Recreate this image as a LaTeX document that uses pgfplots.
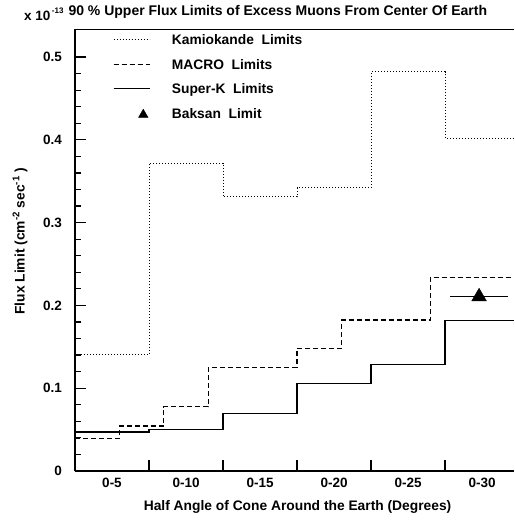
\documentclass[border=0pt]{standalone}
\usepackage{fontspec}
\setmainfont{Liberation Sans}
\usepackage{pgfplots}
\pgfplotsset{compat=1.18}
\begin{document}
\begin{tikzpicture}
\begin{axis}[
 name=ax,
 scale only axis, width=439pt, height=441.7pt,
 xmin=2.5, xmax=32.16, ymin=0, ymax=0.5335,
 axis x line=box, axis y line=left,
 axis line style={-, line width=1.4pt},
 tick pos=left, tick align=inside,
 xtick={7.5,12.5,17.5,22.5,27.5}, xticklabels={},
 extra x ticks={5,10,15,20,25,30},
 extra x tick labels={0-5,0-10,0-15,0-20,0-25,0-30},
 extra x tick style={major tick length=0pt},
 major tick length=11pt, minor tick length=6pt,
 every tick/.style={black, line width=1.2pt},
 ytick={0,0.1,0.2,0.3,0.4,0.5},
 yticklabels={0,0.1,0.2,0.3,0.4,0.5},
 minor y tick num=4,
 ticklabel style={font=\bfseries\fontsize{13.5}{16}\selectfont},
 xticklabel style={yshift=-3.5pt},
 yticklabel style={xshift=-9.5pt},
 xlabel={Half Angle of Cone Around the Earth (Degrees)},
 ylabel={Flux Limit (cm\textsuperscript{-2} sec\textsuperscript{-1} )},
 every axis x label/.style={at={([yshift=-35.7pt]rel axis cs:0.507,0)}, anchor=center, font=\bfseries\fontsize{13.8}{16}\selectfont},
 every axis y label/.style={at={([xshift=-55pt]rel axis cs:0,0.5207)}, anchor=center, rotate=90, font=\bfseries\fontsize{13.8}{16}\selectfont},
 legend style={draw=none, fill=none, inner sep=0pt, outer sep=0pt,
   at={([xshift=38pt,yshift=-5.55pt]rel axis cs:0,1)}, anchor=north west,
   font=\bfseries\fontsize{13.8}{16}\selectfont,
   nodes={inner sep=0pt, text height=9.7pt, text depth=0pt},
   row sep=14.8pt,
   /tikz/every odd column/.append style={column sep=21.7pt}},
 legend cell align=left,
 legend image code/.code={\draw[#1] (0pt,0pt) -- (36pt,0pt);},
]
\addplot[const plot, black, line width=0.9pt, dash pattern=on 0.9pt off 2.1pt]
 coordinates {(2.5,0.1405) (7.5,0.372) (12.5,0.331) (17.5,0.342) (22.5,0.482) (27.5,0.4018) (32.16,0.4018)};
\addlegendentry{Kamiokande\ \ Limits}
\addplot[const plot, black, line width=1.1pt, dash pattern=on 5pt off 3pt]
 coordinates {(2.5,0.0395) (5.5,0.0543) (8.5,0.0777) (11.5,0.1248) (17.5,0.1477) (20.5,0.1824) (26.5,0.2339) (32.16,0.2339)};
\addlegendentry{MACRO\ \ Limits}
\addplot[const plot, black, line width=1.2pt]
 coordinates {(2.5,0.0471) (7.5,0.0503) (12.5,0.0690) (17.5,0.1057) (22.5,0.1284) (27.5,0.182) (32.16,0.182)};
\addlegendentry{Super-K\ \ Limits}
\addplot[black, only marks, mark=triangle*, mark size=8.5pt,
 legend image code/.code={\path (0pt,0pt) (36pt,0pt); \draw[black, mark=triangle*, mark size=5.5pt] plot coordinates {(29.7pt,-1.5pt)};},
 error bars/.cd, x dir=both, x explicit, error mark=none, error bar style={line width=1.1pt, black}]
 coordinates {(29.8,0.2105) +- (1.95,0)};
\addlegendentry{Baksan\ \ Limit}
\end{axis}
\node[anchor=base west, font=\bfseries\fontsize{14}{16}\selectfont] at ([xshift=-10pt,yshift=13.3pt]ax.north west) {90 \% Upper Flux Limits of Excess Muons From Center Of Earth};
\node[anchor=base west, font=\bfseries\fontsize{13.5}{16}\selectfont, inner sep=0pt] at ([xshift=-51pt,yshift=8.3pt]ax.north west) {x 10\hspace{1.5pt}\raisebox{7.7pt}{\fontsize{8}{8}\selectfont -13}};
\pgfresetboundingbox
\path[use as bounding box] ([xshift=-75pt,yshift=-52pt]ax.south west) rectangle ([yshift=29.3pt]ax.north east);
\end{tikzpicture}
\end{document}
